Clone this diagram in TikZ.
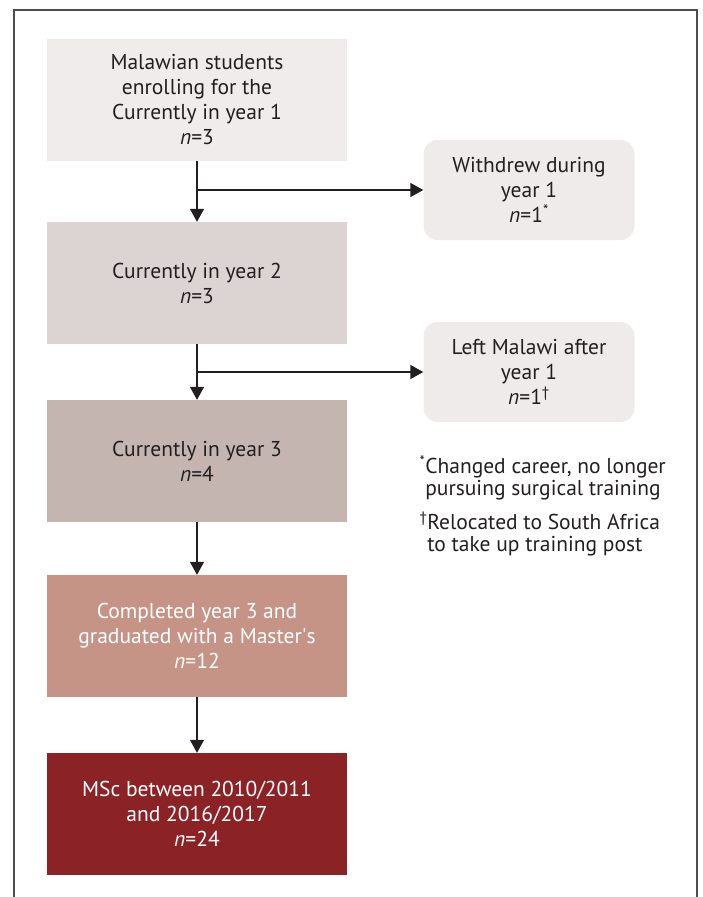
\documentclass[tikz,border=0pt]{standalone}
\usepackage{fontspec}
\setmainfont{PT Sans}
\usepackage{xcolor}
\usetikzlibrary{arrows.meta,positioning}
\definecolor{inkdark}{HTML}{231F20}
\definecolor{stageA}{HTML}{F0ECEB}
\definecolor{stageB}{HTML}{DCD4D2}
\definecolor{stageC}{HTML}{C4B5B1}
\definecolor{stageD}{HTML}{C59486}
\definecolor{stageE}{HTML}{8A2226}
\definecolor{sidefill}{HTML}{EFEBEA}
\begin{document}
\begin{tikzpicture}[x=1pt,y=-1pt]
\def\bw{300}
\def\bh{122}
\tikzset{stage box/.style={
	rectangle,
	minimum width=\bw pt,
	minimum height=\bh pt,
	align=center,
	text=inkdark,
	font=\fontsize{21.5}{25}\selectfont
},
side box/.style={
	rectangle,
	rounded corners=14pt,
	fill=sidefill,
	minimum width=211pt,
	minimum height=100pt,
	align=center,
	text=inkdark,
	font=\fontsize{21.5}{25}\selectfont
},
flow/.style={
	draw=inkdark,
	line width=1.4pt,
	-{Triangle[width=14pt,length=13pt]}
},
note/.style={
	align=left,
	text=inkdark,
	font=\fontsize{21.5}{22}\selectfont
}}
\useasboundingbox (0,0) rectangle (702,897);
% outer frame, open at the bottom
\draw[line width=1.2pt,draw=inkdark!80] (14,900) -- (14,10) -- (697,10) -- (697,900);
% main column
\node[stage box,fill=stageA] (yr1) at (197,100) {Malawian students\\enrolling for the\\Currently in year 1\\\textit{n}=3};
\node[stage box,fill=stageB] (yr2) at (197,283) {Currently in year 2\\\textit{n}=3};
\node[stage box,fill=stageC] (yr3) at (197,461) {Currently in year 3\\\textit{n}=4};
\node[stage box,fill=stageD,text=white] (grad) at (197,636) {Completed year 3 and\\graduated with a Master\textquotesingle s\\\textit{n}=12};
\node[stage box,fill=stageE,text=white] (msc) at (197,814) {MSc between 2010/2011\\and 2016/2017\\\textit{n}=24};
% side boxes
\node[side box] (wdr) at (529,190) {Withdrew during\\year 1\\\textit{n}=1\textsuperscript{*}};
\node[side box] (left) at (529,372) {Left Malawi after\\year 1\\\textit{n}=1\textsuperscript{\dag}};
% arrows
\draw[flow] (yr1) -- (yr2);
\draw[flow] (yr2) -- (yr3);
\draw[flow] (yr3) -- (grad);
\draw[flow] (grad) -- (msc);
\draw[flow] (yr1.south |- wdr.west) -- (wdr.west);
\draw[flow] (yr2.south |- left.west) -- (left.west);
% footnotes
\node[note,anchor=north west] (fnA) at (416,452) {\textsuperscript{*}Changed career, no longer\\\hphantom{\textsuperscript{*}}pursuing surgical training};
\node[note,anchor=north west] (fnB) at (416,508) {\textsuperscript{\dag}Relocated to South Africa\\\hphantom{\textsuperscript{\dag}}to take up training post};
\end{tikzpicture}
\end{document}
